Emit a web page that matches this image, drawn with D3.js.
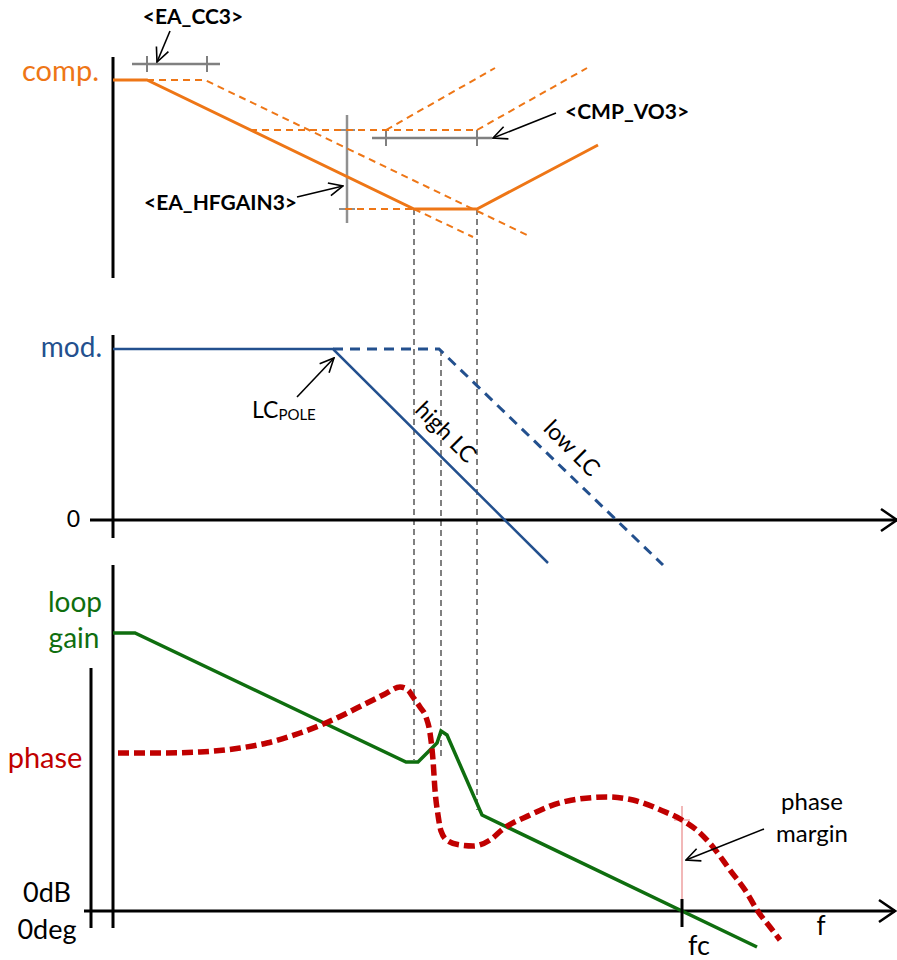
<!DOCTYPE html>
<html>
<head>
<meta charset="utf-8">
<script src="https://d3js.org/d3.v7.min.js"></script>
<style>
body { margin: 0; background: #fff; }
text { font-family: Lato, "Open Sans", sans-serif; }
</style>
</head>
<body>
<script>
// x units: frequency position (log scale, arbitrary units from the y axis)
// y units: gain / phase in arbitrary units per panel

// compensator panel
var compSolid = [[0,198],[34,198],[301,69],[364,69],[485,133]];
var compDashed = [
	[[34,198],[92,198],[414,43]],
	[[301,69],[360,41]],
	[[137,148],[364,148]],
	[[232,69],[301,69]],
	[[273,148],[382,210]],
	[[364,148],[474,210]]
];

// modulator panel
var modHighLC = [[0,171],[220,171],[435,-43]];
var modLowLC = [[220,171],[326,171],[550,-45]];

// loop gain & phase panel
var loopGain = [[0,278],[22,278],[293,149],[305,149],[324,168],[328,180],[334,176],[369,96],[644,-36]];
var phase = [[5,158],[47,158],[87,159],[127,163],[154,168],[187,178],[215,189],[254,208],[272,217],
	[287,224],[295,221],[300,214],[307,204],[313,194],[317,178],[320,151],[322,121],[325,96],[328,80],
	[335,70],[347,66],[360,65],[377,71],[390,82],[417,96],[450,109],[494,114],[520,111],[550,100],
	[569,91],[587,78],[600,64],[617,41],[634,18],[644,1],[657,-16],[667,-29]];
var fc = 569;

// break frequencies linked between panels
var links = [
	{x: 301, from: ["comp", 69], to: ["loop", 151]},
	{x: 328, from: ["mod", 170], to: ["loop", 153]},
	{x: 364, from: ["comp", 69], to: ["loop", 101]}
];

// register markers (gray bars)
var eaCC3 = {y: 214, x0: 19, x1: 107, ticks: [34, 94]};
var cmpVO3 = {y: 140, x0: 259, x1: 379, ticks: [273, 364]};
var hfGain = {x: 234, y0: 55, y1: 163, ticks: [69, 148]};

var arrows = [
	{p: "comp", from: [57,247], to: [44,216]},
	{p: "comp", from: [443,165], to: [380,140]},
	{p: "comp", from: [184,81], to: [230,92]},
	{p: "mod", from: [184,123], to: [221,162]},
	{p: "loop", from: [651,82], to: [573,51]}
];

var orange = "#EE7616", blue = "#23508E", green = "#0F6E0F", red = "#C00000";

var x = d3.scaleLinear().domain([0, 780]).range([113, 893]);
var yComp = d3.scaleLinear().domain([0, 220]).range([278, 58]);
var yMod = d3.scaleLinear().domain([0, 190]).range([520, 330]);
var yLoop = d3.scaleLinear().domain([0, 350]).range([911, 561]);
var ys = {comp: yComp, mod: yMod, loop: yLoop};

var svg = d3.select("body").append("svg")
	.attr("width", 897)
	.attr("height", 960);

var defs = svg.append("defs");
defs.append("marker")
	.attr("id", "arr")
	.attr("viewBox", "0 0 16 16")
	.attr("refX", 15).attr("refY", 8)
	.attr("markerWidth", 16).attr("markerHeight", 16)
	.attr("markerUnits", "userSpaceOnUse")
	.attr("orient", "auto")
	.append("path")
	.attr("d", "M1,1.5 L15,8 L1,14.5")
	.attr("fill", "none").attr("stroke", "#000").attr("stroke-width", 1.6);
defs.append("marker")
	.attr("id", "axarr")
	.attr("viewBox", "0 0 20 26")
	.attr("refX", 18).attr("refY", 13)
	.attr("markerWidth", 20).attr("markerHeight", 26)
	.attr("markerUnits", "userSpaceOnUse")
	.attr("orient", "auto")
	.append("path")
	.attr("d", "M2,2 L18,13 L2,24")
	.attr("fill", "none").attr("stroke", "#000").attr("stroke-width", 2.5);

function line(y) {
	return d3.line().x(function(d) { return x(d[0]); }).y(function(d) { return y(d[1]); });
}
function seg(px0, py0, px1, py1) {
	return svg.append("line").attr("x1", px0).attr("y1", py0).attr("x2", px1).attr("y2", py1);
}

// linking dashed verticals
links.forEach(function(l) {
	seg(x(l.x), ys[l.from[0]](l.from[1]), x(l.x), ys[l.to[0]](l.to[1]))
		.attr("stroke", "#808080").attr("stroke-width", 2).attr("stroke-dasharray", "6,4");
});

// ---- comp panel
seg(x(0), yComp(221), x(0), yComp(0)).attr("stroke", "#000").attr("stroke-width", 3);

// gray markers
function hbar(b) {
	seg(x(b.x0), yComp(b.y), x(b.x1), yComp(b.y)).attr("stroke", "#808080").attr("stroke-width", 2.5);
	b.ticks.forEach(function(t) {
		seg(x(t), yComp(b.y) - 8, x(t), yComp(b.y) + 8).attr("stroke", "#808080").attr("stroke-width", 2);
	});
}
hbar(eaCC3);
hbar(cmpVO3);
seg(x(hfGain.x), yComp(hfGain.y1), x(hfGain.x), yComp(hfGain.y0)).attr("stroke", "#909090").attr("stroke-width", 2.5);
hfGain.ticks.forEach(function(t) {
	seg(x(hfGain.x) - 8, yComp(t), x(hfGain.x) + 8, yComp(t)).attr("stroke", "#909090").attr("stroke-width", 2);
});

svg.selectAll(".compdash")
	.data(compDashed)
	.enter().append("path")
	.attr("class", "compdash")
	.attr("d", line(yComp))
	.attr("fill", "none").attr("stroke", orange).attr("stroke-width", 2).attr("stroke-dasharray", "7,5");
svg.append("path").attr("d", line(yComp)(compSolid))
	.attr("fill", "none").attr("stroke", orange).attr("stroke-width", 3);

// ---- mod panel
seg(x(0), yMod(185), x(0), yMod(-18)).attr("stroke", "#000").attr("stroke-width", 3);
seg(x(-23), yMod(0), x(784), yMod(0)).attr("stroke", "#000").attr("stroke-width", 3).attr("marker-end", "url(#axarr)");
svg.append("path").attr("d", line(yMod)(modLowLC))
	.attr("fill", "none").attr("stroke", blue).attr("stroke-width", 3).attr("stroke-dasharray", "10,7");
svg.append("path").attr("d", line(yMod)(modHighLC))
	.attr("fill", "none").attr("stroke", blue).attr("stroke-width", 2.5);

// ---- loop panel
seg(x(-22), yLoop(243), x(-22), yLoop(-17)).attr("stroke", "#000").attr("stroke-width", 3);
seg(x(0), yLoop(346), x(0), yLoop(-17)).attr("stroke", "#000").attr("stroke-width", 3);
seg(x(-29), yLoop(0), x(782), yLoop(0)).attr("stroke", "#000").attr("stroke-width", 3).attr("marker-end", "url(#axarr)");
// phase margin marker
seg(x(fc), yLoop(105), x(fc), yLoop(0)).attr("stroke", "#eea0a0").attr("stroke-width", 1.5);
seg(x(fc) - 8, yLoop(91), x(fc) + 8, yLoop(91)).attr("stroke", "#f0b0b0").attr("stroke-width", 1.5);
svg.append("path").attr("d", line(yLoop)(loopGain))
	.attr("fill", "none").attr("stroke", green).attr("stroke-width", 3.5);
svg.append("path").attr("d", line(yLoop).curve(d3.curveMonotoneX)(phase))
	.attr("fill", "none").attr("stroke", red).attr("stroke-width", 5.5).attr("stroke-dasharray", "11,5");
seg(x(fc), yLoop(12), x(fc), yLoop(-16)).attr("stroke", "#000").attr("stroke-width", 3);

// annotation arrows
arrows.forEach(function(a) {
	var y = ys[a.p];
	seg(x(a.from[0]), y(a.from[1]), x(a.to[0]), y(a.to[1]))
		.attr("stroke", "#000").attr("stroke-width", 1.6).attr("marker-end", "url(#arr)");
});

// ---- text
function label(t, px, py, opts) {
	var el = svg.append("text").attr("x", px).attr("y", py).text(t)
		.attr("font-size", opts.size).attr("fill", opts.color || "#000")
		.attr("text-anchor", opts.anchor || "start");
	if (opts.bold) el.attr("font-weight", "bold");
	return el;
}
label("comp.", x(-14), yComp(197), {size: 29, color: orange, anchor: "end"});
label("mod.", x(-11), yMod(163), {size: 28, color: blue, anchor: "end"});
label("0", x(-33), yMod(-7), {size: 23, anchor: "end"});
label("loop", x(-38), yLoop(299), {size: 28, color: green, anchor: "middle"});
label("gain", x(-39), yLoop(263), {size: 28, color: green, anchor: "middle"});
label("phase", x(-68), yLoop(143), {size: 29, color: red, anchor: "middle"});
label("0dB", x(-66), yLoop(9), {size: 27, anchor: "middle"});
label("0deg", x(-66), yLoop(-28), {size: 27, anchor: "middle"});
label("fc", x(586), yLoop(-44), {size: 27, anchor: "middle"});
label("f", x(708), yLoop(-24), {size: 26, anchor: "middle"});
label("phase", x(699), yLoop(101), {size: 24, anchor: "middle"});
label("margin", x(699), yLoop(69), {size: 24, anchor: "middle"});

label("<EA_CC3>", x(80), yComp(254), {size: 21, bold: true, anchor: "middle"});
label("<CMP_VO3>", x(452), yComp(159), {size: 21, bold: true});
label("<EA_HFGAIN3>", x(184), yComp(68), {size: 21, bold: true, anchor: "end"});

var lc = label("LC", x(139), yMod(102), {size: 23});
lc.append("tspan").attr("font-size", 15).attr("dy", 2).text("POLE");

svg.append("text").attr("transform", "translate(" + x(333) + "," + yMod(88) + ") rotate(45)")
	.attr("text-anchor", "middle").attr("dy", "0.35em").attr("font-size", 23).text("high LC");
svg.append("text").attr("transform", "translate(" + x(459) + "," + yMod(72) + ") rotate(45)")
	.attr("text-anchor", "middle").attr("dy", "0.35em").attr("font-size", 23).text("low LC");
</script>
</body>
</html>
